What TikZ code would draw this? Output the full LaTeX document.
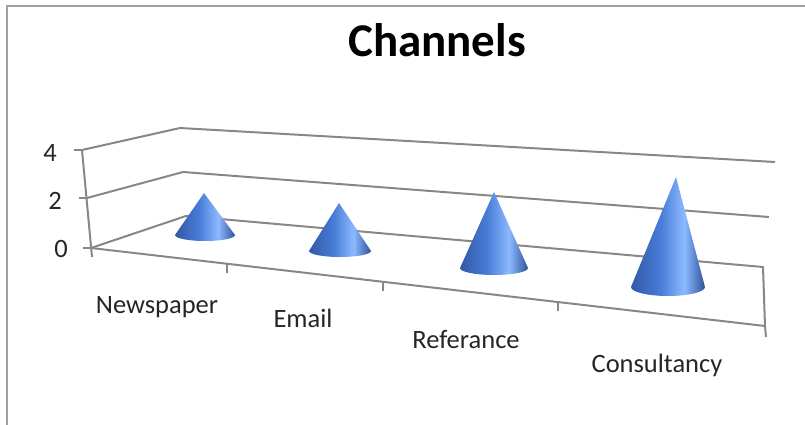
\documentclass[tikz,border=0pt]{standalone}
\usepackage{fontspec}
\setmainfont{Carlito}
\definecolor{cA}{RGB}{50,88,165}
\definecolor{cB}{RGB}{72,125,215}
\definecolor{cC}{RGB}{140,185,255}
\definecolor{cD}{RGB}{46,82,155}
\definecolor{gridc}{RGB}{135,135,135}
\definecolor{framec}{RGB}{160,160,160}
\pgfdeclarehorizontalshading{conesh}{100bp}{color(0bp)=(cA); color(25bp)=(cA); color(45bp)=(cB); color(61bp)=(cC); color(75bp)=(cD); color(100bp)=(cD)}
\newcommand\mycone[6]{%
  \path[shading=conesh] (#1,#2) -- ({#3-#5},#4)
    .. controls ({#3-#5},{#4+0.552*#6}) and ({#3-0.552*#5},{#4+#6}) .. (#3,{#4+#6})
    .. controls ({#3+0.552*#5},{#4+#6}) and ({#3+#5},{#4+0.552*#6}) .. ({#3+#5},#4)
    -- cycle;}
\begin{document}
\begin{tikzpicture}[x=1pt,y=-1pt,
  gridline/.style={draw=gridc,line width=2pt,line join=round},
  frameline/.style={draw=framec,line width=2pt},
  lbl/.style={font=\fontsize{26.5}{26.5}\selectfont,anchor=base,inner sep=0pt,text=black!85},
  ttl/.style={font=\fontsize{47}{47}\selectfont\bfseries,anchor=base,inner sep=0pt}]
\useasboundingbox (0,0) rectangle (805,425);
% frame
\draw[frameline] (7,425) -- (7,6) -- (805,6);
% title
\node[ttl] (title) at (437,57) {Channels};
% walls and floor
\draw[gridline] (82,150) -- (180,128) -- (775,162);
\draw[gridline] (87,198) -- (183,172) -- (769,217);
\draw[gridline] (91,248) -- (186,216) -- (763,267) -- (765,326);
\draw[gridline] (91,248) -- (765,326);
\draw[gridline] (82,150) -- (92,257);
% value ticks
\draw[gridline] (74,150) -- (82,150);
\draw[gridline] (79,198) -- (87,198);
\draw[gridline] (83,248) -- (91,248);
% category ticks
\draw[gridline] (227,263.6) -- (227,273);
\draw[gridline] (383,281.7) -- (383,291);
\draw[gridline] (558,302) -- (558,311);
\draw[gridline] (765,326) -- (766,337);
% value labels
\node[lbl] (v4) at (50,161) {4};
\node[lbl] (v2) at (55,209) {2};
\node[lbl] (v0) at (61,257) {0};
% cones
\mycone{204}{193}{205}{235}{30}{6}
\mycone{339}{203}{340}{251}{31}{6}
\mycone{494}{192}{494}{268}{34}{7}
\mycone{676}{177}{668}{287}{37}{9}
% category labels
\node[lbl] (c1) at (157,313) {Newspaper};
\node[lbl] (c2) at (303,327) {Email};
\node[lbl] (c3) at (466,348) {Referance};
\node[lbl] (c4) at (657,372) {Consultancy};
\end{tikzpicture}
\end{document}
